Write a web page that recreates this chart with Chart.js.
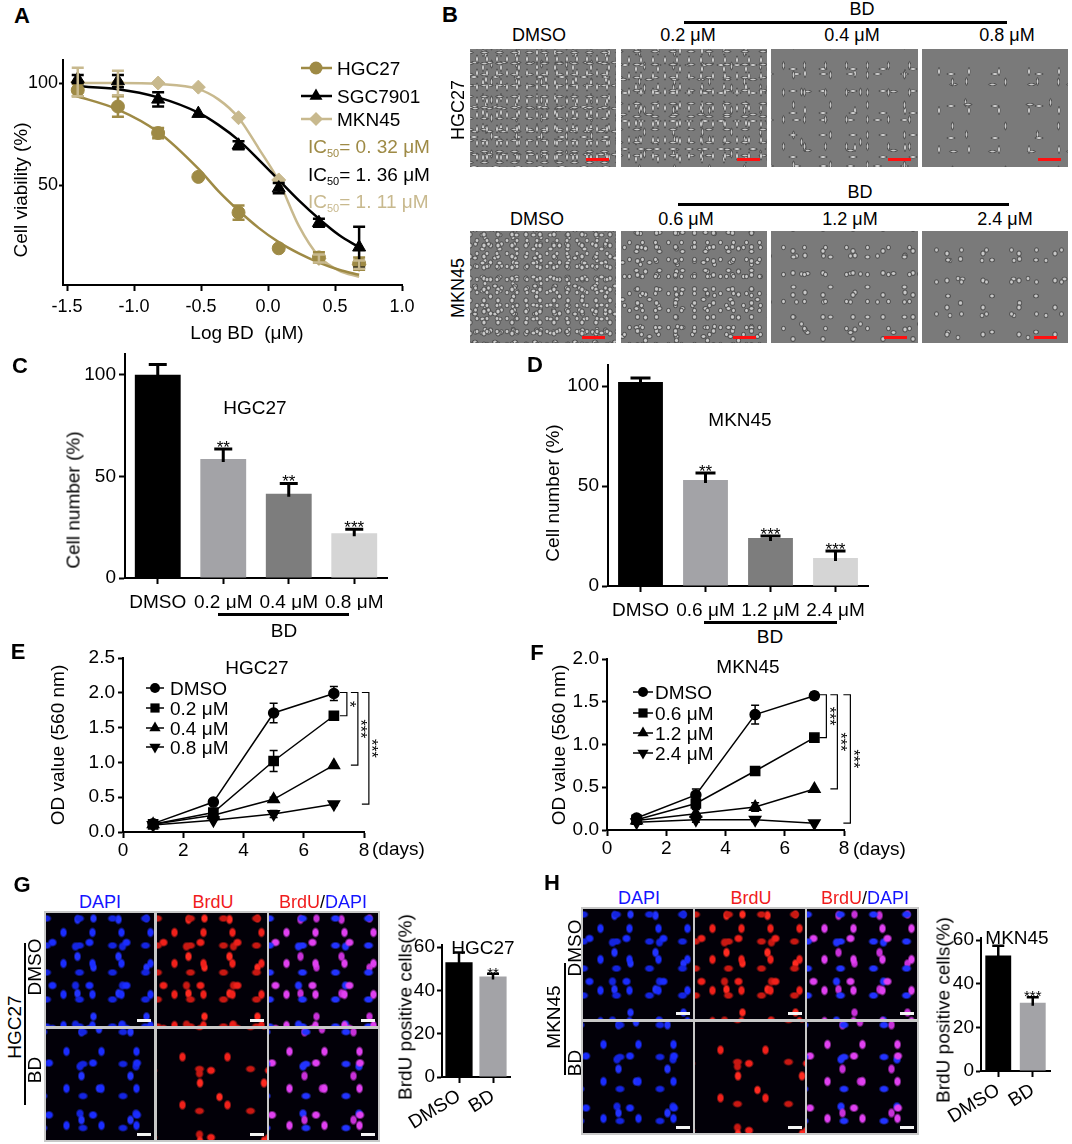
<!DOCTYPE html>
<html><head><meta charset="utf-8">
<script src="https://cdn.jsdelivr.net/npm/chart.js@4.4.1/dist/chart.umd.min.js"></script>
<style>
body{margin:0;width:1072px;height:1144px;position:relative;background:#fff;font-family:"Liberation Sans",Arial,Helvetica,sans-serif;overflow:hidden}
.t{position:absolute;white-space:nowrap;color:#000;font-size:18px;line-height:1}
sub{font-size:11px;vertical-align:-4px;line-height:0}
canvas{position:absolute}
</style></head><body>
<script>
// ================= DATA =================
// Panel A: dose response
const logDose   = [-1.42,-1.12,-0.82,-0.52,-0.22,0.08,0.38,0.68];
const hgcViab   = [96.5,88.5,75.5,54,36.5,19,14.5,11.5];
const hgcViabErr= [3,5,2.5,0,3.5,0,2.5,3];
const sgcViab   = [102,101,92,85,69.5,48.5,31.5,19.5];
const sgcViabErr= [2,3,3.5,0,2,2.5,2,10];
const mknViab   = [100.5,100,100,98,83,52.5,14,11];
const mknViabErr= [7,6,0,0,0,0,2,2];
const fitX      = [-1.45,-1.12,-0.82,-0.52,-0.37,-0.22,-0.07,0.08,0.23,0.38,0.53,0.68];
const hgcFit    = [94,87,76,58,47,37.5,29,22,16.5,12,8.5,6];
const sgcFit    = [98.5,97,93,85.5,79.5,72,62.5,52.5,42.5,33.5,25.5,19.5];
const mknFit    = [100,100,99.5,97,92,83,68,52,30,15,8,5];
const seriesA   = ['HGC27','SGC7901','MKN45'];
const ic50Vals  = ['0. 32 μM','1. 36 μM','1. 11 μM'];
const aXTicks   = [-1.5,-1.0,-0.5,0,0.5,1.0];
const aYTicks   = [50,100];
// Panel C / D: cell number
const cCats  = ['DMSO','0.2 μM','0.4 μM','0.8 μM'];
const cVals  = [100,58.5,41.5,22];
const cErr   = [5,5,5,2];
const cStars = ['','**','**','***'];
const dCats  = ['DMSO','0.6 μM','1.2 μM','2.4 μM'];
const dVals  = [102,53,24,14];
const dErr   = [2,3.5,1,3.5];
const dStars = ['','**','***','***'];
const cdYTicks = [0,50,100];
// Panel E / F: OD growth curves
const days = [1,3,5,7];
const efXTicks = [0,2,4,6,8];
const eLabels = ['DMSO','0.2 μM','0.4 μM','0.8 μM'];
const eDMSO = [0.12,0.43,1.71,1.99]; const eDMSOErr=[0.02,0.02,0.14,0.1];
const e02   = [0.11,0.28,1.02,1.67]; const e02Err  =[0,0.03,0.15,0.03];
const e04   = [0.11,0.24,0.47,0.96]; const e04Err  =[0,0,0.03,0];
const e08   = [0.10,0.17,0.26,0.40]; const e08Err  =[0,0,0.05,0.02];
const eSig  = ['*','***','***'];
const eYTicks = [0,0.5,1,1.5,2,2.5];
const fLabels = ['DMSO','0.6 μM','1.2 μM','2.4 μM'];
const fDMSO = [0.14,0.41,1.35,1.57]; const fDMSOErr=[0.03,0.07,0.11,0.04];
const f06   = [0.12,0.31,0.69,1.08]; const f06Err  =[0,0.06,0.03,0];
const f12   = [0.11,0.19,0.27,0.48]; const f12Err  =[0,0.05,0.05,0];
const f24   = [0.09,0.12,0.12,0.08]; const f24Err  =[0,0.03,0.02,0];
const fSig  = ['***','***','***'];
const fYTicks = [0,0.5,1,1.5,2];
// Panel G / H: BrdU positive cells
const ghCats = ['DMSO','BD'];
const gVals = [53,46.5]; const gErr=[4.5,1.2]; const gStars=['','**'];
const hVals = [53,31.3]; const hErr=[4.5,2.5]; const hStars=['','***'];
const ghYTicks = [0,20,40,60];

// ================= HELPERS =================
const FONT='"Liberation Sans", Arial, Helvetica, sans-serif';
Chart.defaults.font.family=FONT; Chart.defaults.color='#000';
const cHGC='#9e8a45', cMKN='#c8b98e', cBlue='#1414ff', cRed='#f01c1c';

function T(html,x,y,o={}){
  const d=document.createElement('div'); d.className='t'; d.innerHTML=html;
  d.style.left=x+'px'; d.style.top=y+'px';
  if(o.size) d.style.fontSize=o.size+'px';
  if(o.color) d.style.color=o.color;
  if(o.bold) d.style.fontWeight='bold';
  let tr=o.left?'translate(0,-50%)':'translate(-50%,-50%)';
  if(o.rot) tr+=' rotate('+o.rot+'deg)';
  d.style.transform=tr; document.body.appendChild(d); return d;
}
function R(x,y,w,h,bg){
  const d=document.createElement('div');
  d.style.cssText='position:absolute;left:'+x+'px;top:'+y+'px;width:'+w+'px;height:'+h+'px;background:'+bg;
  document.body.appendChild(d); return d;
}
function marker(ctx,st,x,y,r,col,rot){
  ctx.save(); ctx.translate(x,y); ctx.rotate((rot||0)*Math.PI/180); ctx.fillStyle=col; ctx.beginPath();
  if(st==='circle'){ctx.arc(0,0,r,0,Math.PI*2);}
  else if(st==='rect'){const s=r*Math.SQRT1_2; ctx.rect(-s,-s,2*s,2*s);}
  else if(st==='triangle'){for(let k=0;k<3;k++){const a=k*2*Math.PI/3; const px=Math.sin(a)*r, py=-Math.cos(a)*r; k?ctx.lineTo(px,py):ctx.moveTo(px,py);} ctx.closePath();}
  else if(st==='rectRot'){ctx.moveTo(0,-r);ctx.lineTo(r,0);ctx.lineTo(0,r);ctx.lineTo(-r,0);ctx.closePath();}
  ctx.fill(); ctx.restore();
}
const extras={id:'extras',
  afterDatasetsDraw(chart,args,opts){
    const ctx=chart.ctx, ys=chart.scales.y;
    chart.data.datasets.forEach((ds,di)=>{
      if(!ds.errs) return;
      const meta=chart.getDatasetMeta(di);
      ctx.save(); ctx.strokeStyle=ds.errColor||'#000'; ctx.lineWidth=ds.errW||2;
      meta.data.forEach((el,i)=>{
        const e=ds.errs[i]||0; const raw=ds.data[i]; const v=(typeof raw==='object')?raw.y:raw;
        const cap=ds.errCap||5;
        if(e>0){
          const yt=ys.getPixelForValue(v+e);
          const yb=ds.errUp?el.y+3:ys.getPixelForValue(v-e);
          ctx.beginPath(); ctx.moveTo(el.x,yt); ctx.lineTo(el.x,yb);
          ctx.moveTo(el.x-cap,yt); ctx.lineTo(el.x+cap,yt);
          if(!ds.errUp){ctx.moveTo(el.x-cap,yb); ctx.lineTo(el.x+cap,yb);}
          ctx.stroke();
        }
        if(ds.stars&&ds.stars[i]){
          const yt=ys.getPixelForValue(v+e);
          ctx.fillStyle='#000'; ctx.font=(ds.starSize||17)+'px '+FONT; ctx.textAlign='center'; ctx.textBaseline='alphabetic';
          ctx.fillText(ds.stars[i],el.x,yt+4);
        }
      });
      ctx.restore();
    });
    if(opts.legend){
      const L=opts.legend;
      L.items.forEach(it=>{
        const ds=chart.data.datasets[it.ds]; const y=it.y-opts.oy;
        ctx.save(); ctx.strokeStyle=ds.borderColor; ctx.lineWidth=L.lw;
        ctx.beginPath(); ctx.moveTo(L.x1-opts.ox,y); ctx.lineTo(L.x2-opts.ox,y); ctx.stroke(); ctx.restore();
        marker(ctx,ds.pointStyle,L.mx-opts.ox,y,ds.pointRadius,ds.pointBackgroundColor,ds.pointRotation||0);
      });
    }
    if(opts.brackets){
      const B=opts.brackets;
      ctx.save(); ctx.strokeStyle='#000'; ctx.lineWidth=1.2; ctx.fillStyle='#000';
      B.pairs.forEach((p,k)=>{
        const m0=chart.getDatasetMeta(p[0]).data, m1=chart.getDatasetMeta(p[1]).data;
        const a=m0[m0.length-1], b=m1[m1.length-1];
        const x=a.x+B.offs[k], y0=a.y-1, y1=b.y;
        ctx.beginPath(); ctx.moveTo(x-7,y0); ctx.lineTo(x,y0); ctx.lineTo(x,y1); ctx.lineTo(x-7,y1); ctx.stroke();
        ctx.save(); ctx.translate(x+2,(y0+y1)/2); ctx.rotate(Math.PI/2);
        ctx.font='16px '+FONT; ctx.textAlign='center'; ctx.textBaseline='middle'; ctx.fillText(B.labels[k],0,0); ctx.restore();
      });
      ctx.restore();
    }
  }};
Chart.register(extras);

function scale(o){
  const s={
    border:{display:true,color:'#000',width:2},
    grid:{display:true,drawOnChartArea:false,drawTicks:true,tickLength:o.tl||6,tickWidth:2,tickColor:'#000',color:'#000',offset:false},
    ticks:{color:'#000',font:{size:o.fs||18,family:FONT},padding:o.pad==null?3:o.pad,autoSkip:false,maxRotation:o.rot||0,minRotation:o.rot||0}
  };
  if(o.type) s.type=o.type;
  if(o.min!=null) s.min=o.min;
  if(o.max!=null) s.max=o.max;
  if(o.list) s.afterBuildTicks=sc=>{sc.ticks=o.list.map(v=>({value:v}));};
  if(o.cb) s.ticks.callback=o.cb;
  return s;
}
function mk(box,area,cfg){
  const cv=document.createElement('canvas');
  cv.width=box.w; cv.height=box.h;
  cv.style.cssText='position:absolute;left:'+box.x+'px;top:'+box.y+'px;width:'+box.w+'px;height:'+box.h+'px';
  document.body.appendChild(cv);
  const o=cfg.options;
  o.responsive=false; o.animation=false; o.events=[];
  o.layout={padding:{left:0,top:area.t-box.y,right:box.x+box.w-area.r,bottom:0}};
  o.plugins=Object.assign({legend:{display:false},tooltip:{enabled:false}},o.plugins||{});
  o.plugins.extras=Object.assign({ox:box.x,oy:box.y},o.plugins.extras||{});
  o.scales.x.afterFit=s=>{s.height=box.y+box.h-area.b;};
  o.scales.y.afterFit=s=>{s.width=area.l-box.x;};
  return new Chart(cv,cfg);
}
const fix1=v=>Number(v).toFixed(1);
const xy=(xs,ys)=>xs.map((x,i)=>({x,y:ys[i]}));

// ================= PANEL A =================
mk({x:0,y:40,w:440,h:310},{l:63,t:60,r:402,b:285},{
  type:'scatter',
  data:{datasets:[
    {label:seriesA[0],data:xy(logDose,hgcViab),pointStyle:'circle',pointRadius:6.5,pointBackgroundColor:cHGC,pointBorderColor:cHGC,borderColor:cHGC,errs:hgcViabErr,errColor:cHGC,errW:2.5,errCap:6},
    {label:seriesA[1],data:xy(logDose,sgcViab),pointStyle:'triangle',pointRadius:7.5,pointBackgroundColor:'#000',pointBorderColor:'#000',borderColor:'#000',errs:sgcViabErr,errColor:'#000',errW:2.5,errCap:6},
    {label:seriesA[2],data:xy(logDose,mknViab),pointStyle:'rectRot',pointRadius:7,pointBackgroundColor:cMKN,pointBorderColor:cMKN,borderColor:cMKN,errs:mknViabErr,errColor:cMKN,errW:2.5,errCap:6},
    {data:xy(fitX,hgcFit),showLine:true,pointRadius:0,borderColor:cHGC,borderWidth:2.5,cubicInterpolationMode:'monotone'},
    {data:xy(fitX,sgcFit),showLine:true,pointRadius:0,borderColor:'#000',borderWidth:2.5,cubicInterpolationMode:'monotone'},
    {data:xy(fitX,mknFit),showLine:true,pointRadius:0,borderColor:cMKN,borderWidth:2.5,cubicInterpolationMode:'monotone'}
  ]},
  options:{
    scales:{
      x:scale({type:'linear',min:-1.53,max:1.0,list:aXTicks,cb:fix1,pad:5,fs:18}),
      y:scale({type:'linear',min:1,max:111.3,list:aYTicks,tl:4,pad:1,fs:18})
    },
    plugins:{extras:{legend:{lw:2.5,x1:301,x2:332,mx:316,items:[{ds:0,y:68},{ds:1,y:96},{ds:2,y:119}]}}}
  }
});
T('A',22,16,{bold:true,size:22});
T('Cell viability (%)',20,190,{rot:-90,size:19});
T('Log BD&nbsp; (μM)',247,332,{size:19});
T(seriesA[0],337,68,{left:true,size:19});
T(seriesA[1],337,96,{left:true,size:19});
T(seriesA[2],337,119,{left:true,size:19});
T('IC<sub>50</sub>= '+ic50Vals[0],308,146,{left:true,color:cHGC,size:19});
T('IC<sub>50</sub>= '+ic50Vals[1],308,174,{left:true,size:19});
T('IC<sub>50</sub>= '+ic50Vals[2],308,201,{left:true,color:cMKN,size:19});

// ================= PANEL B (phase contrast images) =================
function phaseBg(s,elong){
  const L=[[2,3,13,17],[7,9,19,14],[4,11,23,19],[12,2,17,29],[9,6,31,23],[15,13,27,37],[1,18,37,31]];
  return L.map((l,i)=>{
    const rx=elong?(i%2?6.5:2.2):(3.5+(i%3)*0.5), ry=elong?(i%2?2.2:6.5):(3.5+((i+1)%3)*0.5);
    return 'radial-gradient(ellipse '+rx+'px '+ry+'px at 50% 50%, #c9c9c9 0 25%, #505050 55%, transparent 78%) '+l[0]+'px '+l[1]+'px/'+Math.round(l[2]*s)+'px '+Math.round(l[3]*s)+'px';
  }).join(',')+',#7a7a7a';
}
T('B',450,15,{bold:true,size:22});
const bCols=[[470,146],[621,146],[771,147],[922,146]];
const bRow1Dens=[0.8,0.95,1.6,2.3], bRow2Dens=[0.75,1.0,1.6,1.9];
bCols.forEach((c,i)=>{
  R(c[0],49,c[1],118,phaseBg(bRow1Dens[i],true));
  R(c[0]+c[1]-30,158,23,3,'#ff1010');
  R(c[0],231,c[1],112,phaseBg(bRow2Dens[i],false));
  R(c[0]+c[1]-34,336,23,3,'#ff1010');
});
T('BD',862,9); R(684,21,323,3,'#000');
T('DMSO',539,35); T('0.2 μM',688,35); T('0.4 μM',852,35); T('0.8 μM',1007,35);
T('BD',860,192); R(678,203,331,3,'#000');
T('DMSO',537,219); T('0.6 μM',686,219); T('1.2 μM',850,219); T('2.4 μM',1005,219);
T('HGC27',458,110,{rot:-90});
T('MKN45',458,288,{rot:-90});

// ================= PANEL C =================
const barCols=['#000','#a3a3a7','#7d7d7d','#d5d5d5'];
mk({x:60,y:340,w:340,h:270},{l:125,t:352,r:387,b:578},{
  type:'bar',
  data:{labels:cCats,datasets:[{data:cVals,backgroundColor:barCols,barPercentage:0.7,categoryPercentage:1,errs:cErr,errUp:true,errW:3,errCap:9,stars:cStars}]},
  options:{scales:{x:scale({pad:7,fs:19}),y:scale({min:0,max:110,list:cdYTicks,pad:3,fs:19})}}
});
T('C',20,366,{bold:true,size:22});
T('Cell number (%)',73,500,{rot:-90,size:19});
T('HGC27',255,407,{size:19});
R(218,613,131,3,'#000'); T('BD',284,630,{size:19});

// ================= PANEL D =================
mk({x:540,y:350,w:340,h:270},{l:608,t:365,r:868,b:586},{
  type:'bar',
  data:{labels:dCats,datasets:[{data:dVals,backgroundColor:barCols,barPercentage:0.69,categoryPercentage:1,errs:dErr,errUp:true,errW:3,errCap:10,stars:dStars}]},
  options:{scales:{x:scale({pad:7,fs:19}),y:scale({min:0,max:110.5,list:cdYTicks,pad:3,fs:19})}}
});
T('D',535,365,{bold:true,size:22});
T('Cell number (%)',552,493,{rot:-90,size:19});
T('MKN45',740,419,{size:19});
R(704,621,133,3,'#000'); T('BD',770,636,{size:19});

// ================= PANEL E / F =================
function lineDs(label,ys,errs,style,r,rot){
  return {label,data:xy(days,ys),borderColor:'#000',borderWidth:1.5,pointStyle:style,pointRadius:r,pointRotation:rot||0,
    pointBackgroundColor:'#000',pointBorderColor:'#000',errs,errW:1.5,errCap:4};
}
mk({x:0,y:640,w:440,h:230},{l:123,t:658,r:364,b:832},{
  type:'line',
  data:{datasets:[lineDs(eLabels[0],eDMSO,eDMSOErr,'circle',5),lineDs(eLabels[1],e02,e02Err,'rect',6.5),
                  lineDs(eLabels[2],e04,e04Err,'triangle',6.5),lineDs(eLabels[3],e08,e08Err,'triangle',6.5,180)]},
  options:{
    scales:{x:scale({type:'linear',min:0,max:8,list:efXTicks,pad:1,fs:19}),y:scale({type:'linear',min:0,max:2.5,list:eYTicks,cb:fix1,tl:5,pad:3,fs:19})},
    plugins:{extras:{legend:{lw:1.5,x1:146,x2:164,mx:155,items:[{ds:0,y:688},{ds:1,y:708},{ds:2,y:728},{ds:3,y:747}]},
      brackets:{pairs:[[0,1],[0,2],[0,3]],labels:eSig,offs:[13,24,35]}}}
  }
});
T('E',18,652,{bold:true,size:22});
T('OD value (560 nm)',57,745,{rot:-90,size:19});
T('HGC27',257,667,{size:19});
T('(days)',372,848,{left:true,size:19});
eLabels.forEach((l,i)=>T(l,170,[688,708,728,747][i],{left:true,size:19}));

mk({x:520,y:640,w:440,h:230},{l:607,t:659,r:844,b:830},{
  type:'line',
  data:{datasets:[lineDs(fLabels[0],fDMSO,fDMSOErr,'circle',5),lineDs(fLabels[1],f06,f06Err,'rect',6.5),
                  lineDs(fLabels[2],f12,f12Err,'triangle',6.5),lineDs(fLabels[3],f24,f24Err,'triangle',6.5,180)]},
  options:{
    scales:{x:scale({type:'linear',min:0,max:8,list:efXTicks,pad:1,fs:19}),y:scale({type:'linear',min:0,max:2.0,list:fYTicks,cb:fix1,tl:5,pad:3,fs:19})},
    plugins:{extras:{legend:{lw:1.5,x1:633,x2:653,mx:643,items:[{ds:0,y:692},{ds:1,y:713},{ds:2,y:733},{ds:3,y:753}]},
      brackets:{pairs:[[0,1],[0,2],[0,3]],labels:fSig,offs:[12,23,36]}}}
  }
});
T('F',537,653,{bold:true,size:22});
T('OD value (560 nm)',558,745,{rot:-90,size:19});
T('MKN45',748,666,{size:19});
T('(days)',853,848,{left:true,size:19});
fLabels.forEach((l,i)=>T(l,655,[692,713,733,753][i],{left:true,size:19}));

// ================= PANEL G / H (fluorescence images) =================
function fluoBg(cols,s){
  const L=[[3,4,29,31,4,5.5],[17,19,33,27,5.5,4],[11,25,41,37,4,5.5],[25,8,37,43,5,4.5],[6,14,47,39,4.5,5],[21,30,53,49,4,5]];
  return L.map((l,i)=>'radial-gradient(ellipse '+l[4]+'px '+l[5]+'px at 50% 50%, '+cols[i%cols.length]+' 0 55%, transparent 100%) '+l[0]+'px '+l[1]+'px/'+Math.round(l[2]*s)+'px '+Math.round(l[3]*s)+'px').join(',')+',#020008';
}
const blueSet=['#1a2cff','#1424e0','#2233ff'];
const redSet=['#f0201a','#c81812','#ff2a20'];
const mergeSet=['#e040f0','#2233ff','#c830d8'];
function fluoPanel(cols,rows){
  R(cols[0][0]-2,rows[0][0]-2,cols[2][0]+cols[2][1]-cols[0][0]+4,rows[1][0]+rows[1][1]-rows[0][0]+4,'#c8c8c8');
  rows.forEach((r,ri)=>{
    const dens=ri?1.2:1;
    [blueSet,redSet,mergeSet].forEach((set,ci)=>{
      const c=cols[ci];
      R(c[0],r[0],c[1],r[1],fluoBg(set,ci===1&&ri?dens*1.3:dens));
      R(c[0]+c[1]-17,r[0]+r[1]-7,14,3,'#f4f4f4');
    });
  });
}
fluoPanel([[46,108],[157,110],[269,109]],[[913,113],[1029,111]]);
fluoPanel([[583,110],[695,110],[807,110]],[[909,110],[1022,111]]);
T('G',22,885,{bold:true,size:22});
T('DAPI',100,902,{color:cBlue}); T('BrdU',213,902,{color:cRed});
T('<span style="color:'+cRed+'">BrdU</span>/<span style="color:'+cBlue+'">DAPI</span>',323,902);
T('HGC27',14,1027,{rot:-90,size:19}); R(24,943,2,162,'#000');
T('DMSO',34,967,{rot:-90,size:19}); T('BD',34,1070,{rot:-90,size:19});
T('H',552,883,{bold:true,size:22});
T('DAPI',639,898,{color:cBlue}); T('BrdU',751,898,{color:cRed});
T('<span style="color:'+cRed+'">BrdU</span>/<span style="color:'+cBlue+'">DAPI</span>',865,898);
T('MKN45',553,1017,{rot:-90,size:19}); R(564,963,2,112,'#000');
T('DMSO',574,948,{rot:-90,size:19}); T('BD',574,1063,{rot:-90,size:19});

// G bar chart
mk({x:370,y:925,w:150,h:219},{l:442,t:945,r:510,b:1077},{
  type:'bar',
  data:{labels:ghCats,datasets:[{data:gVals,backgroundColor:['#000','#a3a3a7'],barPercentage:0.8,categoryPercentage:1,errs:gErr,errUp:true,errW:2.5,errCap:6,stars:gStars,starSize:15}]},
  options:{scales:{x:scale({rot:32,pad:2,fs:19}),y:scale({min:0,max:61,list:ghYTicks,tl:5,pad:2,fs:19})}}
});
T('BrdU positive cells(%)',405,1007,{rot:-90,size:19});
T('HGC27',483,947,{size:19});
// H bar chart
mk({x:910,y:918,w:162,h:226},{l:981,t:938,r:1050,b:1071},{
  type:'bar',
  data:{labels:ghCats,datasets:[{data:hVals,backgroundColor:['#000','#a3a3a7'],barPercentage:0.75,categoryPercentage:1,errs:hErr,errUp:true,errW:2.5,errCap:6,stars:hStars,starSize:15}]},
  options:{scales:{x:scale({rot:32,pad:2,fs:19}),y:scale({min:0,max:61,list:ghYTicks,tl:5,pad:2,fs:19})}}
});
T('BrdU positive cells(%)',943,1010,{rot:-90,size:19});
T('MKN45',1017,937,{size:19});
</script>
</body></html>
